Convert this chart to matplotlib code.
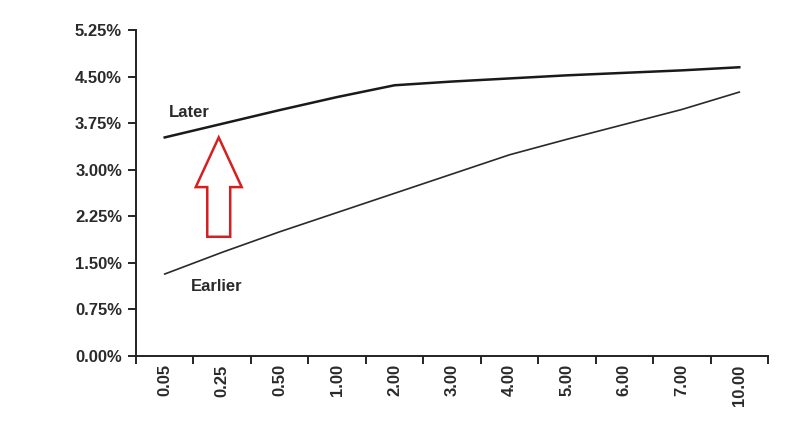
import matplotlib.pyplot as plt
from matplotlib.patches import Polygon
import numpy as np

plt.rcParams['font.family'] = ['Liberation Sans', 'DejaVu Sans']

maturities = ['0.05', '0.25', '0.50', '1.00', '2.00', '3.00', '4.00', '5.00', '6.00', '7.00', '10.00']
later = [3.52, 3.74, 3.96, 4.17, 4.36, 4.42, 4.47, 4.52, 4.56, 4.60, 4.65]
earlier = [1.32, 1.67, 2.00, 2.31, 2.62, 2.93, 3.24, 3.49, 3.73, 3.97, 4.25]
y_ticks = [0.0, 0.75, 1.50, 2.25, 3.00, 3.75, 4.50, 5.25]

x = np.arange(len(maturities))
txt = dict(fontsize=12, fontweight='bold', color='#2a2a2a')

fig = plt.figure(figsize=(8, 4.22), dpi=100)
ax = fig.add_axes([136 / 800, 1 - 356 / 422, (768 - 136) / 800, (356 - 30) / 422])

ax.plot(x, later, color='#1a1a1a', lw=1.8)
ax.plot(x, earlier, color='#2a2a2a', lw=1.2)

ax.text(0.07, 3.85, 'Later', **txt)
ax.text(0.45, 1.05, 'Earlier', **txt)

# hollow red arrow pointing up
cx = 0.94
arrow = [(cx - 0.2, 1.92), (cx + 0.2, 1.92), (cx + 0.2, 2.72), (cx + 0.4, 2.72),
         (cx, 3.52), (cx - 0.4, 2.72), (cx - 0.2, 2.72)]
ax.add_patch(Polygon(arrow, closed=True, fill=False, edgecolor='#d42020', lw=1.8))

ax.set_xlim(-0.5, len(maturities) - 0.5)
ax.set_ylim(0, 5.25)
ax.set_yticks(y_ticks)
ax.set_yticklabels([f'{v:.2f}%' for v in y_ticks], **txt)

ax.set_xticks(np.arange(-0.5, len(maturities)), labels=[''] * (len(maturities) + 1))
ax.set_xticks(x, labels=maturities, minor=True, rotation=90, **txt)
ax.tick_params(axis='x', which='minor', length=0, pad=6)
ax.tick_params(axis='x', which='major', length=6, width=1.2, direction='out')
ax.tick_params(axis='y', length=6, width=1.2, pad=4)

for s in ['top', 'right']:
    ax.spines[s].set_visible(False)
for s in ['left', 'bottom']:
    ax.spines[s].set_linewidth(1.4)
    ax.spines[s].set_color('#222222')

fig.savefig('out.png', dpi=100)
